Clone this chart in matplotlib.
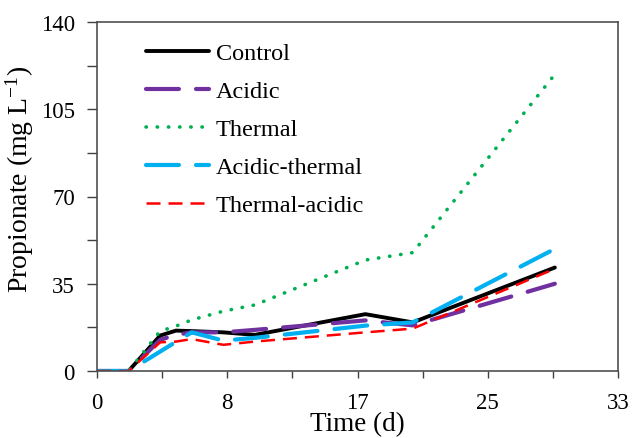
import matplotlib
matplotlib.use("Agg")
import matplotlib.pyplot as plt
from matplotlib.ticker import MultipleLocator, FixedLocator

plt.rcParams['font.family'] = ['Liberation Serif', 'DejaVu Serif']
plt.rcParams['mathtext.fontset'] = 'custom'
plt.rcParams['mathtext.rm'] = 'Liberation Serif'

days = [0, 2, 4, 5, 6, 8, 10, 17, 20, 29]
control = [0, 0, 14.2, 16.2, 16.0, 15.5, 14.5, 22.8, 19.5, 41.5]
acidic = [0, 0, 12.5, 14.5, 15.5, 15.5, 16.5, 20.3, 18.3, 35.0]
thermal = [0, 0, 16.0, 18.0, 20.5, 24.0, 26.5, 44.5, 47.5, 119.0]
acidic_thermal = [0, 0, 7.8, 11.7, 15.5, 12.2, 13.3, 18.2, 19.5, 49.0]
thermal_acidic = [0, 0, 11.5, 11.8, 12.8, 10.5, 11.8, 15.5, 17.0, 41.0]

labels = ['Control', 'Acidic', 'Thermal', 'Acidic-thermal', 'Thermal-acidic']
xtick_pos = [0, 8.25, 16.5, 24.75, 33]
xtick_labels = ['0', '8', '17', '25', '33']
ytick_vals = [0, 35, 70, 105, 140]

fig = plt.figure(figsize=(6.33, 4.39), dpi=100)
ax = fig.add_axes([97/633, 1-372/439, (618-97)/633, (372-23)/439])

ax.plot(days, control, color='black', lw=2.8, label=labels[0], solid_capstyle='round')
ax.plot(days, acidic, color='#7030A0', lw=3.0, dashes=(7.9, 4.1), dash_capstyle='round', label=labels[1])
ax.plot(days, thermal, color='#00B050', lw=2.6, dashes=(0.1, 3.0), dash_capstyle='round', label=labels[2])
ax.plot(days, acidic_thermal, color='#00B0F0', lw=3.0, dashes=(7.9, 4.1), dash_capstyle='round', label=labels[3])
ax.plot(days, thermal_acidic, color='#FF0000', lw=1.8, dashes=(5.6, 3.2), label=labels[4])

ax.set_xlim(0, 33)
ax.set_ylim(0, 140)
ax.xaxis.set_major_locator(FixedLocator(xtick_pos))
ax.set_xticklabels(xtick_labels)
ax.xaxis.set_minor_locator(MultipleLocator(4.125))
ax.set_yticks(ytick_vals)
ax.yaxis.set_minor_locator(MultipleLocator(17.5))
ax.tick_params(which='both', direction='out', width=1, color='#404040', labelsize=16.5)
ax.tick_params(axis='x', which='both', length=5, pad=10)
ax.tick_params(axis='y', which='both', length=7, pad=9)
for s in ax.spines.values():
    s.set_color('#505050')
    s.set_linewidth(1.2)

ax.set_xlabel('Time (d)', fontsize=19.5, labelpad=-1)
ax.set_ylabel(r'Propionate (mg L$\mathregular{^{-1}}$)', fontsize=20)
ax.yaxis.set_label_coords(-0.117, 0.553)

leg = ax.legend(loc='upper left', bbox_to_anchor=(146/633, 1-43/439), bbox_transform=fig.transFigure,
                frameon=False, fontsize=17.5, handlelength=2.6, handletextpad=0.28,
                labelspacing=0.66, borderpad=0, borderaxespad=0)

fig.savefig('out.png', dpi=100)
